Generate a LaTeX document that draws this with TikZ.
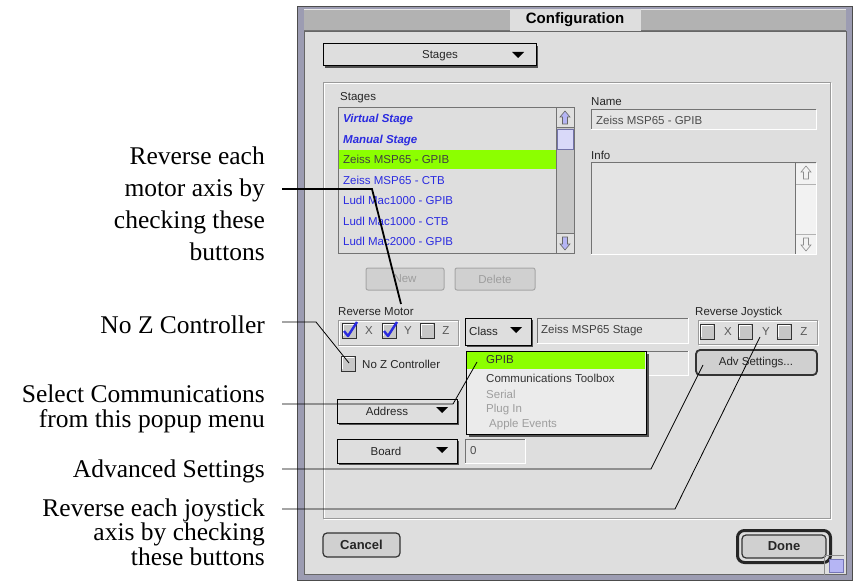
\documentclass[tikz,border=0pt]{standalone}
\usepackage{fontspec}
\setmainfont{Liberation Serif}
\newfontfamily\uifont{Liberation Sans}
\definecolor{winframe}{HTML}{9C9CB2}
\definecolor{wincontent}{HTML}{DEDEDE}
\definecolor{titlebar}{HTML}{B2B2B2}
\definecolor{lime}{HTML}{8CFF00}
\definecolor{listblue}{HTML}{2B2BE0}
\definecolor{btnfill}{HTML}{D0D0D0}
\definecolor{fieldfill}{HTML}{E4E4E4}
\definecolor{etch}{HTML}{9A9A9A}
\definecolor{shadowcol}{HTML}{505050}
\newcommand\macpop[4]{%
  \fill[shadowcol] (#1+2,#2+2) rectangle (#3+2,#4+2);
  \filldraw[fill=wincontent,draw=black,line width=1pt] (#1,#2) rectangle (#3,#4);}
\newcommand\macfield[4]{%
  \fill[fieldfill] (#1,#2) rectangle (#3,#4);
  \draw[black!55,line width=1pt] (#1,#4) -- (#1,#2) -- (#3,#2);
  \draw[white,line width=1pt] (#1,#4) -- (#3,#4) -- (#3,#2);}
\newcommand\macetch[4]{%
  \draw[white,line width=1pt] (#1+1,#2+1) rectangle (#3+1,#4+1);
  \draw[etch,line width=1pt] (#1,#2) rectangle (#3,#4);}
\newcommand\maccheck[2]{%
  \filldraw[fill=black!22,draw=black!80,line width=1pt] (#1,#2) rectangle ++(14,15);
  \draw[white,line width=1pt] (#1+1.5,#2+13) -- (#1+1.5,#2+1.5) -- (#1+12.5,#2+1.5);}
\newcommand\macticked[2]{%
  \draw[listblue,line width=2.4pt,line join=round] (#1+2,#2+8) -- (#1+6,#2+13) -- (#1+15,#2-1);}
\tikzset{poptri/.pic={\fill (-6,-3) -- (6,-3) -- (0,3) -- cycle;}}
\begin{document}
\begin{tikzpicture}[x=1pt,y=-1pt,
  callout/.style={font=\fontsize{25.5}{30}\selectfont, anchor=base east, inner sep=0pt},
  ui/.style={font=\uifont\fontsize{11.5}{13}\selectfont, inner sep=0pt, anchor=west, text=black!85},
  uic/.style={ui, anchor=center},
  dim/.style={text=black!38},
  listitem/.style={ui, text=listblue},
  lead/.style={black, line width=0.8pt},
  leadthick/.style={black, line width=1.8pt},
  macbtn/.style={rounded corners=4pt, fill=btnfill, draw=black!80, line width=1.2pt},
  dimbtn/.style={rounded corners=2pt, fill=btnfill, draw=black!35, line width=1pt},
]
\useasboundingbox (0,0) rectangle (857,583);
\fill[white] (0,0) rectangle (857,583);

% ---------- window ----------
\fill[winframe] (297,6) rectangle (853,581);
\draw[black!70,line width=1pt] (297.5,6.5) rectangle (852.5,580.5);
\fill[titlebar] (304,9) rectangle (846,31);
\draw[white!70!titlebar,line width=1pt] (304,9.5) -- (846,9.5);
\draw[black!55,line width=1pt] (304,31) -- (846,31);
\fill[wincontent] (510,9) rectangle (641,31);
\node[font=\uifont\bfseries\fontsize{15}{17}\selectfont, inner sep=0pt] (title) at (575,20) {Configuration};
\fill[wincontent] (304,32) rectangle (846,574);
\draw[black!60,line width=1pt] (304,32) rectangle (846,574);

% ---------- top popup ----------
\macpop{323}{44}{536}{66}
\node[uic] (stagespop) at (440,56) {Stages};
\pic at (518,55) {poptri};

% ---------- group box ----------
\macetch{323}{83}{830}{518}

% ---------- stage list ----------
\node[ui] (stageslbl) at (340,98) {Stages};
\filldraw[fill=wincontent,draw=black!55,line width=1pt] (338,108) rectangle (574,253);
\fill[lime] (339,150) rectangle (556,169);
\filldraw[fill=black!22,draw=black!55,line width=1pt] (556,108) rectangle (574,253);
\filldraw[fill=black!12,draw=black!55,line width=1pt] (556,108) rectangle (574,128);
\filldraw[fill=black!12,draw=black!55,line width=1pt] (556,233) rectangle (574,253);
\filldraw[fill=listblue!18,draw=listblue!50!black!60,line width=1pt] (557,130) rectangle (573,150);
\filldraw[fill=listblue!35,draw=black!60,line width=0.6pt] (565,111) -- (570,117) -- (567.5,117) -- (567.5,124) -- (562.5,124) -- (562.5,117) -- (560,117) -- cycle;
\filldraw[fill=listblue!35,draw=black!60,line width=0.6pt] (565,250) -- (570,244) -- (567.5,244) -- (567.5,237) -- (562.5,237) -- (562.5,244) -- (560,244) -- cycle;
\node[listitem,font=\uifont\bfseries\itshape\fontsize{11.5}{13}\selectfont] (r1) at (343,120) {Virtual Stage};
\node[listitem,font=\uifont\bfseries\itshape\fontsize{11.5}{13}\selectfont] (r2) at (343,140.5) {Manual Stage};
\node[ui,text=black!75] (r3) at (343,159.5) {Zeiss MSP65 - GPIB};
\node[listitem] (r4) at (343,180) {Zeiss MSP65 - CTB};
\node[listitem] (r5) at (343,200.5) {Ludl Mac1000 - GPIB};
\node[listitem] (r6) at (343,221) {Ludl Mac1000 - CTB};
\node[listitem] (r7) at (343,241) {Ludl Mac2000 - GPIB};

% ---------- name / info ----------
\node[ui] (namelbl) at (591,102) {Name};
\macfield{591}{110}{816}{130}
\node[ui,text=black!70] (nameval) at (596,120) {Zeiss MSP65 - GPIB};
\node[ui] (infolbl) at (591,155) {Info};
\macfield{591}{163}{816}{254}
\fill[black!5] (796,164) rectangle (816,254);
\draw[black!55,line width=1pt] (795,163) -- (795,254);
\draw[black!45,line width=0.6pt] (806,166) -- (811,172) -- (808.5,172) -- (808.5,179) -- (803.5,179) -- (803.5,172) -- (801,172) -- cycle;
\draw[black!45,line width=0.6pt] (806,251) -- (811,245) -- (808.5,245) -- (808.5,238) -- (803.5,238) -- (803.5,245) -- (801,245) -- cycle;
\draw[black!30,line width=0.6pt] (796,184) -- (816,184) (796,234) -- (816,234);

% ---------- New / Delete ----------
\draw[dimbtn] (366,268) rectangle (444,290);
\node[uic,dim] (newbtn) at (405,279) {New};
\draw[dimbtn] (455,268) rectangle (535,290);
\node[uic,dim] (delbtn) at (495,279) {Delete};

% ---------- reverse motor ----------
\node[ui] (revmot) at (338,312) {Reverse Motor};
\macetch{338}{320}{458}{345}
\maccheck{342}{323}\macticked{342}{323}
\maccheck{382}{323}\macticked{382}{323}
\maccheck{420}{323}
\node[uic,text=black!65] (mx) at (369,331) {X};
\node[uic,text=black!65] (my) at (408,331) {Y};
\node[uic,text=black!65] (mz) at (446,331) {Z};

% ---------- class ----------
\macpop{465}{318}{531}{345}
\node[ui] (classpop) at (469,331) {Class};
\pic at (516,330) {poptri};
\macfield{537}{318}{688}{343}
\node[ui,text=black!75] (classval) at (541,331) {Zeiss MSP65 Stage};
\macfield{537}{351}{688}{375}

% ---------- reverse joystick ----------
\node[ui] (revjoy) at (695,313) {Reverse Joystick};
\macetch{698}{320}{817}{344}
\maccheck{700}{324}
\maccheck{738}{324}
\maccheck{777}{324}
\node[uic,text=black!65] (jx) at (728,332) {X};
\node[uic,text=black!65] (jy) at (766,332) {Y};
\node[uic,text=black!65] (jz) at (804,332) {Z};

% ---------- adv settings ----------
\draw[macbtn,line width=1.8pt] (696,350) rectangle (817,375);
\node[uic] (advbtn) at (756,362.5) {Adv Settings...};

% ---------- no Z controller ----------
\maccheck{341}{356}
\node[ui] (nozlbl) at (362,364) {No Z Controller};

% ---------- popup menu ----------
\fill[shadowcol] (469,354) rectangle (649,437);
\filldraw[fill=black!8,draw=black,line width=1pt] (466,351) rectangle (646,434);
\fill[lime] (467,352) rectangle (645,369);
\node[ui,text=black!80] (m1) at (486,360) {GPIB};
\node[ui,text=black!80] (m2) at (486,378) {Communications Toolbox};
\node[ui,dim] (m3) at (486,394) {Serial};
\node[ui,dim] (m4) at (486,409.5) {Plug In};
\node[ui,dim] (m5) at (489,425) {Apple Events};

% ---------- address / board ----------
\macpop{337}{399}{457}{423}
\node[uic] (addrpop) at (387,411) {Address};
\pic at (442,410) {poptri};
\macpop{337}{439}{457}{463}
\node[uic] (boardpop) at (386,451) {Board};
\pic at (442,450) {poptri};
\macfield{465}{439}{525}{463}
\node[ui,text=black!70] (boardval) at (470,451) {0};

% ---------- cancel / done ----------
\draw[macbtn] (323,533) rectangle (400,557);
\node[uic,font=\uifont\bfseries\fontsize{13}{15}\selectfont] (cancelbtn) at (361.5,545) {Cancel};
\draw[black!85,line width=3pt,rounded corners=7pt] (737.5,530.5) rectangle (830.5,562.5);
\draw[macbtn] (742,535) rectangle (826,558);
\node[uic,font=\uifont\bfseries\fontsize{13}{15}\selectfont] (donebtn) at (784,546.5) {Done};
% grow box
\draw[black!45,line width=1pt] (824,575) -- (824,555) -- (844,555);
\filldraw[fill=listblue!35,draw=listblue!60!black!60,line width=0.8pt] (829,559) rectangle (843,572);

% ---------- callouts ----------
\node[callout] (motA) at (265,164.5) {Reverse each};
\node[callout] (motB) at (265,196.5) {motor axis by};
\node[callout] (motC) at (265,228.5) {checking these};
\node[callout] (motD) at (265,260) {buttons};
\node[callout] (nozc) at (265,333) {No Z Controller};
\node[callout] (selA) at (265,402) {Select Communications};
\node[callout] (selB) at (265,427) {from this popup menu};
\node[callout] (advc) at (265,477) {Advanced Settings};
\node[callout] (joyA) at (265,516) {Reverse each joystick};
\node[callout] (joyB) at (265,540.5) {axis by checking};
\node[callout] (joyC) at (265,565) {these buttons};

\coordinate (motS) at (282,189);
\coordinate (motK) at (372,189);
\coordinate (motT) at (401,304);
\draw[leadthick] (motS) -- (motK) -- (motT);

\coordinate (nozS) at (282,322);
\coordinate (nozK) at (316,322);
\coordinate (nozT) at (349,363);
\draw[lead] (nozS) -- (nozK) -- (nozT);

\coordinate (selS) at (282,404);
\coordinate (selK) at (453,404);
\coordinate (selT) at (477,362);
\draw[lead] (selS) -- (selK) -- (selT);

\coordinate (advS) at (282,469);
\coordinate (advK) at (651,469);
\coordinate (advT) at (703,365);
\draw[lead] (advS) -- (advK) -- (advT);

\coordinate (joyS) at (282,509);
\coordinate (joyK) at (675,509);
\coordinate (joyT) at (760,337);
\draw[lead] (joyS) -- (joyK) -- (joyT);
\end{tikzpicture}
\end{document}
